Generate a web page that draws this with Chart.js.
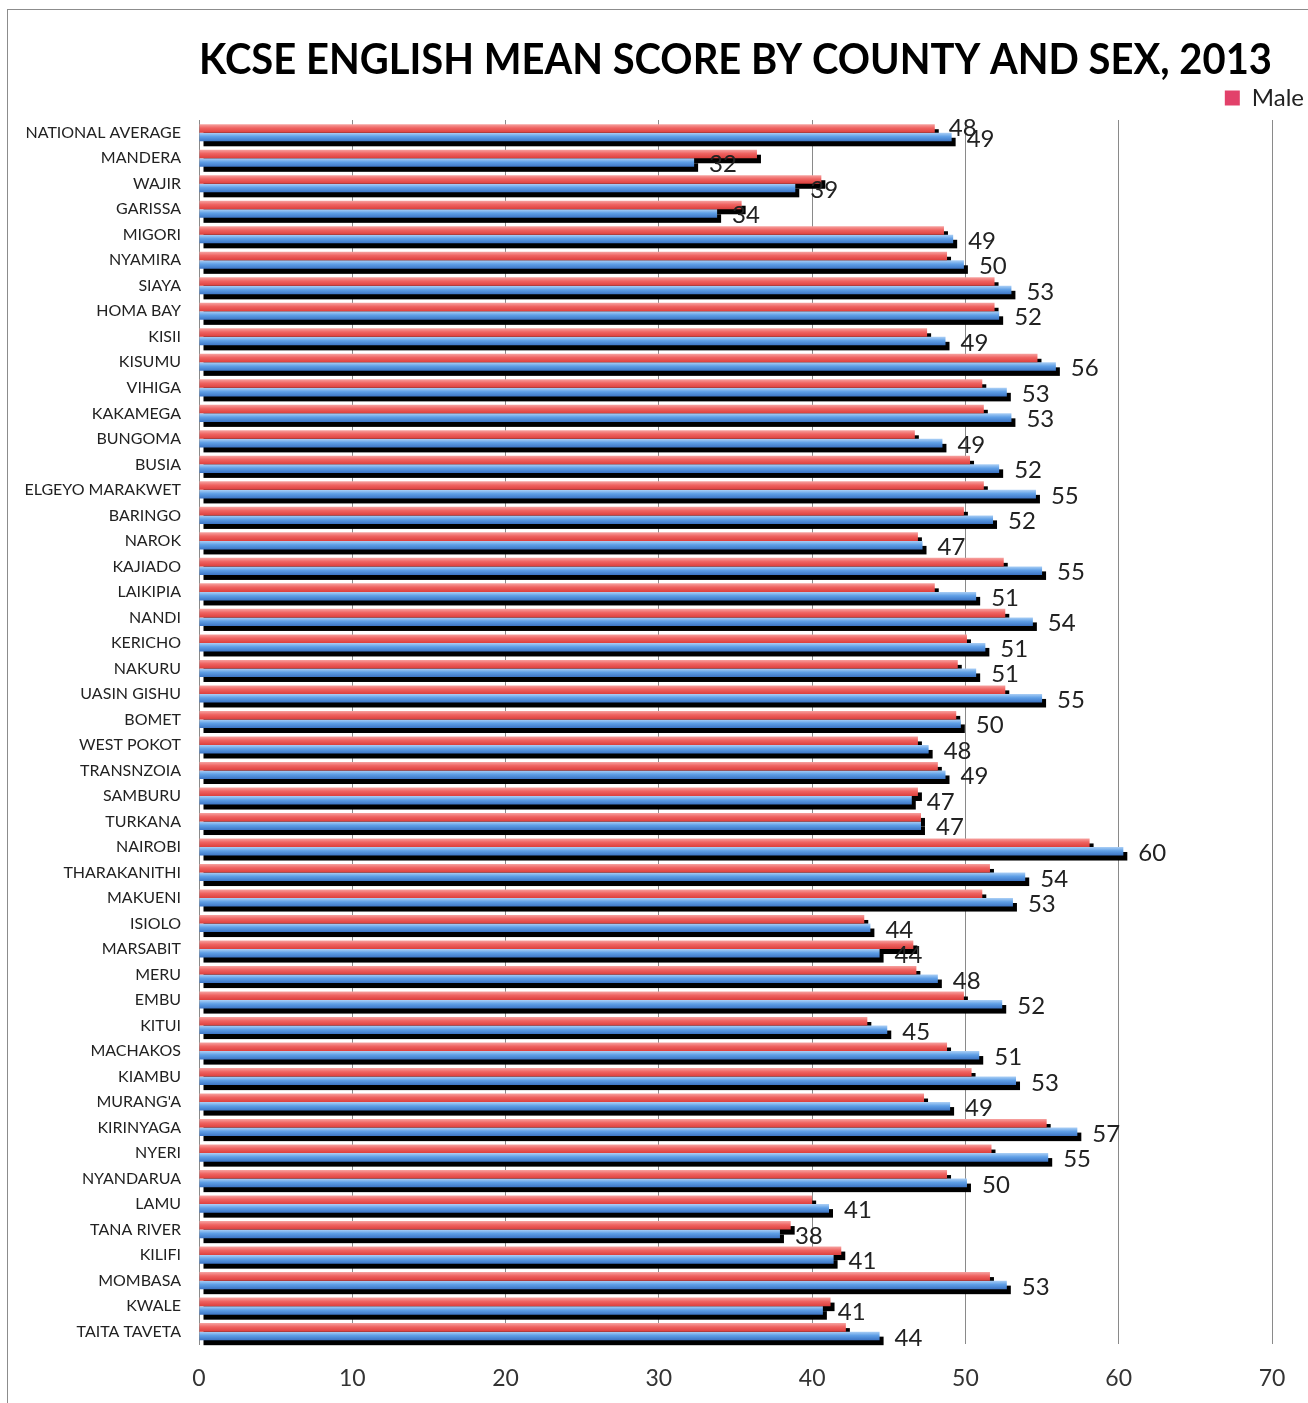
<!DOCTYPE html>
<html>
<head>
<meta charset="utf-8">
<title>KCSE English mean score by county and sex, 2013</title>
<script src="https://cdn.jsdelivr.net/npm/chart.js@4.4.1/dist/chart.umd.min.js"></script>
<style>
  html, body { margin: 0; padding: 0; background: #fff; }
  #frame {
    position: absolute; left: 7px; top: 9px; width: 1400px; height: 1500px;
    border-left: 1px solid #8c8c8c; border-top: 1px solid #8c8c8c;
  }
  #wrap { position: absolute; left: 0; top: 0; width: 1308px; height: 1403px; }
</style>
</head>
<body>
<div id="frame"></div>
<div id="wrap"><canvas id="chart" width="1308" height="1403"></canvas></div>
<script>
const TITLE = "KCSE ENGLISH MEAN SCORE BY COUNTY AND SEX, 2013";

const counties = [
  "NATIONAL AVERAGE", "MANDERA", "WAJIR", "GARISSA", "MIGORI", "NYAMIRA", "SIAYA", "HOMA BAY",
  "KISII", "KISUMU", "VIHIGA", "KAKAMEGA", "BUNGOMA", "BUSIA", "ELGEYO MARAKWET", "BARINGO",
  "NAROK", "KAJIADO", "LAIKIPIA", "NANDI", "KERICHO", "NAKURU", "UASIN GISHU", "BOMET",
  "WEST POKOT", "TRANSNZOIA", "SAMBURU", "TURKANA", "NAIROBI", "THARAKANITHI", "MAKUENI", "ISIOLO",
  "MARSABIT", "MERU", "EMBU", "KITUI", "MACHAKOS", "KIAMBU", "MURANG'A", "KIRINYAGA",
  "NYERI", "NYANDARUA", "LAMU", "TANA RIVER", "KILIFI", "MOMBASA", "KWALE", "TAITA TAVETA",
];

// red bars (no labels except the national average)
const maleScores = [
  48.0, 36.4, 40.6, 35.4, 48.6, 48.8, 51.9, 51.9,
  47.5, 54.7, 51.1, 51.2, 46.7, 50.3, 51.2, 49.9,
  46.9, 52.5, 48.0, 52.6, 50.1, 49.5, 52.6, 49.4,
  46.9, 48.2, 46.9, 47.1, 58.1, 51.6, 51.1, 43.4,
  46.6, 46.8, 49.9, 43.6, 48.8, 50.4, 47.3, 55.3,
  51.7, 48.8, 40.0, 38.6, 41.9, 51.6, 41.2, 42.2,
];

// blue bars, labelled with the rounded value
const femaleScores = [
  49.1, 32.3, 38.9, 33.8, 49.2, 49.9, 53.0, 52.2,
  48.7, 55.9, 52.7, 53.0, 48.5, 52.2, 54.6, 51.8,
  47.2, 55.0, 50.7, 54.4, 51.3, 50.7, 55.0, 49.7,
  47.6, 48.7, 46.5, 47.1, 60.3, 53.9, 53.1, 43.8,
  44.4, 48.2, 52.4, 44.9, 50.9, 53.3, 49.0, 57.3,
  55.4, 50.1, 41.1, 37.9, 41.4, 52.7, 40.7, 44.4,
];

const maleLabelRows = ["NATIONAL AVERAGE"];

const maleShades = ["#f6a3a1", "#ef6361", "#dc3f3c"];
const femaleShades = ["#acd0f6", "#5f9fe6", "#3c74c4"];
const CATEGORY_PCT = 0.67;
const FONT = "Lato";

// vertical gradient for one bar of the pair (0 = upper, 1 = lower)
function barFill(shades, slot) {
  return (context) => {
    const chart = context.chart;
    const scale = chart.scales && chart.scales.y;
    if (context.type !== "data" || !scale || !chart.chartArea) return shades[1];
    const band = scale.height / counties.length;
    const center = scale.getPixelForValue(context.dataIndex);
    const half = (band * CATEGORY_PCT) / 2;
    const top = slot === 0 ? center - half : center;
    const grad = chart.ctx.createLinearGradient(0, top, 0, top + half);
    grad.addColorStop(0, shades[0]);
    grad.addColorStop(0.45, shades[1]);
    grad.addColorStop(1, shades[2]);
    return grad;
  };
}

// black drop shadow under every bar, drawn before any bar
const barShadow = {
  id: "barShadow",
  beforeDatasetsDraw(chart) {
    const ctx = chart.ctx;
    ctx.save();
    ctx.fillStyle = "#000";
    chart.data.datasets.forEach((ds, di) => {
      chart.getDatasetMeta(di).data.forEach((bar) => {
        const { x, y, base, height } = bar.getProps(["x", "y", "base", "height"]);
        ctx.fillRect(base + 4, y - height / 2 + 5, x - base, height);
      });
    });
    ctx.restore();
  },
};

const valueLabels = {
  id: "valueLabels",
  afterDatasetsDraw(chart) {
    const ctx = chart.ctx;
    ctx.save();
    ctx.font = `24px ${FONT}`;
    ctx.fillStyle = "#222";
    ctx.textBaseline = "middle";
    const female = chart.getDatasetMeta(1);
    female.data.forEach((bar, i) => {
      ctx.fillText(String(Math.round(femaleScores[i])), bar.x + 15, bar.y + 2);
    });
    const male = chart.getDatasetMeta(0);
    maleLabelRows.forEach((name) => {
      const i = counties.indexOf(name);
      const bar = male.data[i];
      ctx.fillText(String(Math.round(maleScores[i])), bar.x + 14, bar.y);
    });
    ctx.restore();
  },
};

new Chart(document.getElementById("chart"), {
  type: "bar",
  data: {
    labels: counties,
    datasets: [
      {
        label: "Male",
        data: maleScores,
        backgroundColor: barFill(maleShades, 0),
        barPercentage: 1,
        categoryPercentage: CATEGORY_PCT,
        clip: false,
      },
      {
        label: "Female",
        data: femaleScores,
        backgroundColor: barFill(femaleShades, 1),
        barPercentage: 1,
        categoryPercentage: CATEGORY_PCT,
        clip: false,
      },
    ],
  },
  options: {
    indexAxis: "y",
    responsive: false,
    animation: false,
    layout: { padding: { top: 0, right: 0, bottom: -9, left: 0 } },
    plugins: {
      title: {
        display: true,
        fullSize: false,
        text: TITLE,
        color: "#000",
        font: { family: FONT, size: 42, weight: "bold", lineHeight: 1 },
        padding: { top: 39, bottom: 1 },
      },
      legend: {
        display: true,
        position: "top",
        align: "end",
        labels: {
          generateLabels: (chart) => Chart.defaults.plugins.legend.labels.generateLabels(chart)
            .filter((item) => item.datasetIndex === 0)
            .map((item) => ({ ...item, fillStyle: "#e2416a", strokeStyle: "#e2416a", lineWidth: 0 })),
          boxWidth: 15,
          boxHeight: 15,
          color: "#222",
          font: { family: FONT, size: 24 },
          padding: 4,
        },
      },
      tooltip: { enabled: false },
    },
    scales: {
      x: {
        min: 0,
        max: 70,
        ticks: { stepSize: 10, color: "#333", font: { family: FONT, size: 23 }, padding: 20 },
        grid: { color: "#8a8a8a", drawTicks: false },
        border: { display: false },
      },
      y: {
        grid: { display: false, drawTicks: false },
        border: { color: "#8a8a8a" },
        ticks: { color: "#222", font: { family: FONT, size: 16 }, padding: 18, autoSkip: false },
        afterFit: (axis) => { axis.width = 199; },
      },
      yRight: {
        type: "category",
        position: "right",
        grid: { display: false, drawTicks: false },
        border: { display: false },
        ticks: { display: false },
        afterFit: (axis) => { axis.width = 36; },
      },
    },
  },
  plugins: [barShadow, valueLabels],
});
</script>
</body>
</html>
